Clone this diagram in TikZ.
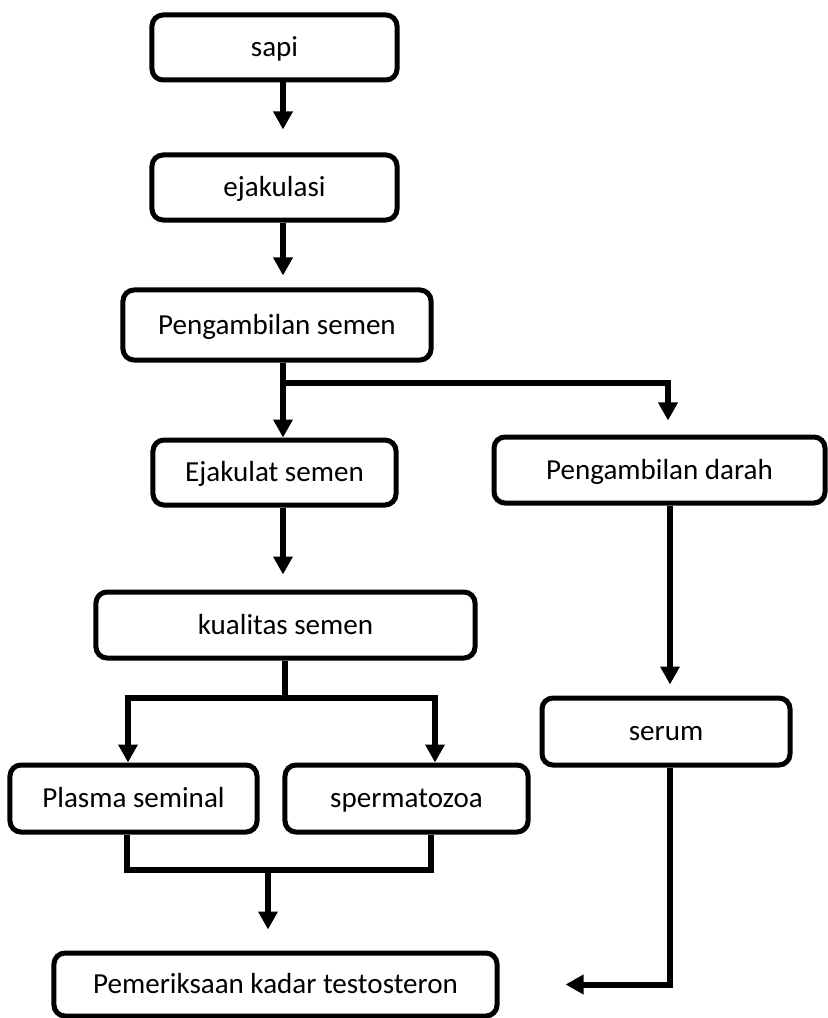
\documentclass[tikz,border=0pt]{standalone}
\usepackage{fontspec}
\setmainfont{Carlito}
\usetikzlibrary{arrows.meta}
\begin{document}
\begin{tikzpicture}[x=0.03cm,y=-0.03cm,
  box/.style={draw, line width=0.15cm, rounded corners=0.33cm, inner sep=0pt,
              text height=20pt, text depth=4pt,
              font=\fontsize{24.8}{30}\selectfont, text=black},
  conn/.style={line width=0.18cm},
  arr/.style={conn, -{Triangle[length=0.54cm,width=0.56cm]}},
]
\useasboundingbox (0,0) rectangle (827,1018);

\node[box, minimum width=7.35cm, minimum height=1.95cm] (sapi) at (274.5,47.5) {sapi};
\node[box, minimum width=7.35cm, minimum height=1.95cm] (ejak) at (274.5,187.5) {ejakulasi};
\node[box, minimum width=9.24cm, minimum height=2.1cm] (peng) at (277,325) {Pengambilan semen};
\node[box, minimum width=7.29cm, minimum height=1.95cm] (ejakulat) at (274.5,472.5) {Ejakulat semen};
\node[box, minimum width=9.93cm, minimum height=1.98cm] (darah) at (659.5,470) {Pengambilan darah};
\node[box, minimum width=11.37cm, minimum height=1.98cm] (kual) at (285.5,625) {kualitas semen};
\node[box, minimum width=7.41cm, minimum height=2.01cm] (plasma) at (133.5,798.5) {Plasma seminal};
\node[box, minimum width=7.29cm, minimum height=2.01cm] (sperma) at (406.5,798.5) {spermatozoa};
\node[box, minimum width=7.44cm, minimum height=2.01cm] (serum) at (666,731.5) {serum};
\node[box, minimum width=13.29cm, minimum height=1.89cm] (pem) at (275.5,984.5) {Pemeriksaan kadar testosteron};

\coordinate (cx) at (283,0);
\coordinate (br) at (668,383);
\coordinate (j1) at (283,383);
\coordinate (rx) at (670,0);
\coordinate (k1) at (285,698);
\coordinate (pl) at (128,698);
\coordinate (sp) at (435,698);
\coordinate (m1) at (127,870);
\coordinate (m2) at (431,870);
\coordinate (m3) at (268,870);

\draw[arr, shorten >=0.69cm] (sapi.south -| cx) -- (ejak.north -| cx);
\draw[arr, shorten >=0.36cm] (ejak.south -| cx) -- (peng.north -| cx);
\draw[arr] (peng.south -| cx) -- (ejakulat.north -| cx);
\draw[arr, shorten >=0.42cm] (j1) -| (darah.north -| br);
\draw[arr, shorten >=0.45cm] (ejakulat.south -| cx) -- (kual.north -| cx);
\draw[arr, shorten >=0.33cm] (darah.south -| rx) -- (serum.north -| rx);
\draw[conn] (kual.south -| k1) -- (k1);
\draw[arr] (k1) -- (pl) -- (plasma.north -| pl);
\draw[arr] (k1) -- (sp) -- (sperma.north -| sp);
\draw[conn] (plasma.south -| m1) -- (m1) -- (m2) -- (sperma.south -| m2);
\draw[arr, shorten >=0.63cm] (m3) -- (pem.north -| m3);
\draw[arr, shorten >=1.98cm] (serum.south -| rx) |- (pem.east);
\end{tikzpicture}
\end{document}
